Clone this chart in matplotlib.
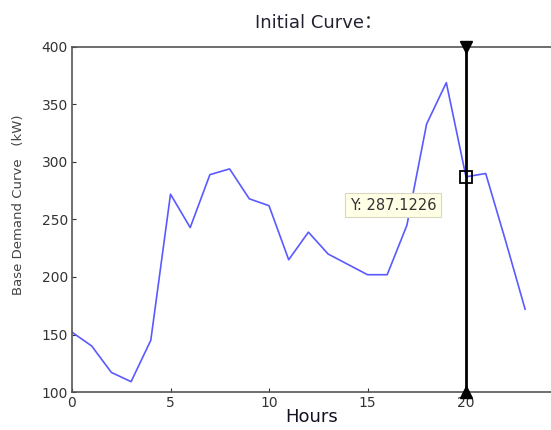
import numpy as np
import matplotlib
matplotlib.use('Agg')
import matplotlib.pyplot as plt

# hourly base demand (kW)
hours = list(range(24))
demand = [152, 140, 117, 109, 145, 272, 243, 289, 294, 268, 262, 215,
          239, 220, 211, 202, 202, 245, 333, 369, 287.1226, 290, 232, 172]
cursor_x = 20
cursor_y = 287.1226

plt.rcParams['font.family'] = ['DejaVu Sans', 'Noto Sans CJK SC']

fig = plt.figure(figsize=(5.51, 4.30), dpi=100)
ax = fig.add_axes([72 / 551, 38 / 430, 492.5 / 551, 345 / 430])

ax.plot(hours, demand, color='#5a5aff', lw=1.2)

# data cursor
ax.plot([cursor_x, cursor_x], [100, 400], color='black', lw=2, zorder=3)
ax.plot(cursor_x, 400, marker='v', color='black', ms=9, clip_on=False, zorder=4)
ax.plot(cursor_x, 100, marker='^', color='black', ms=9, clip_on=False, zorder=4)
ax.plot(cursor_x, cursor_y, marker='s', mfc='none', mec='black', ms=8, mew=1.3, zorder=5)
ax.text(14.1, 262.5, 'Y: 287.1226', fontsize=10.5, color='#333333',
        va='center', ha='left',
        bbox=dict(boxstyle='square,pad=0.3', fc='#ffffe6', ec='#d8d8c0', lw=0.8))

ax.set_xlim(0, 25)
ax.set_ylim(100, 400)
ax.set_xticks([0, 5, 10, 15, 20])
ax.set_yticks([100, 150, 200, 250, 300, 350, 400])
ax.tick_params(direction='in', length=3, labelsize=10, colors='#333333', pad=3)
for s in ax.spines.values():
    s.set_color('#555555')
    s.set_linewidth(1.2)

ax.set_title('Initial Curve：', fontsize=13, color='#222233', pad=14)
ax.set_xlabel('Hours', fontsize=13, color='#111122')
ax.xaxis.set_label_coords((312 - 72) / 492.5, -0.047)
ax.set_ylabel('Base Demand Curve   (kW)', fontsize=9.5, color='#444444')
ax.yaxis.set_label_coords(-0.095, (392 - 205) / 345)

fig.savefig('out.png', dpi=100)
